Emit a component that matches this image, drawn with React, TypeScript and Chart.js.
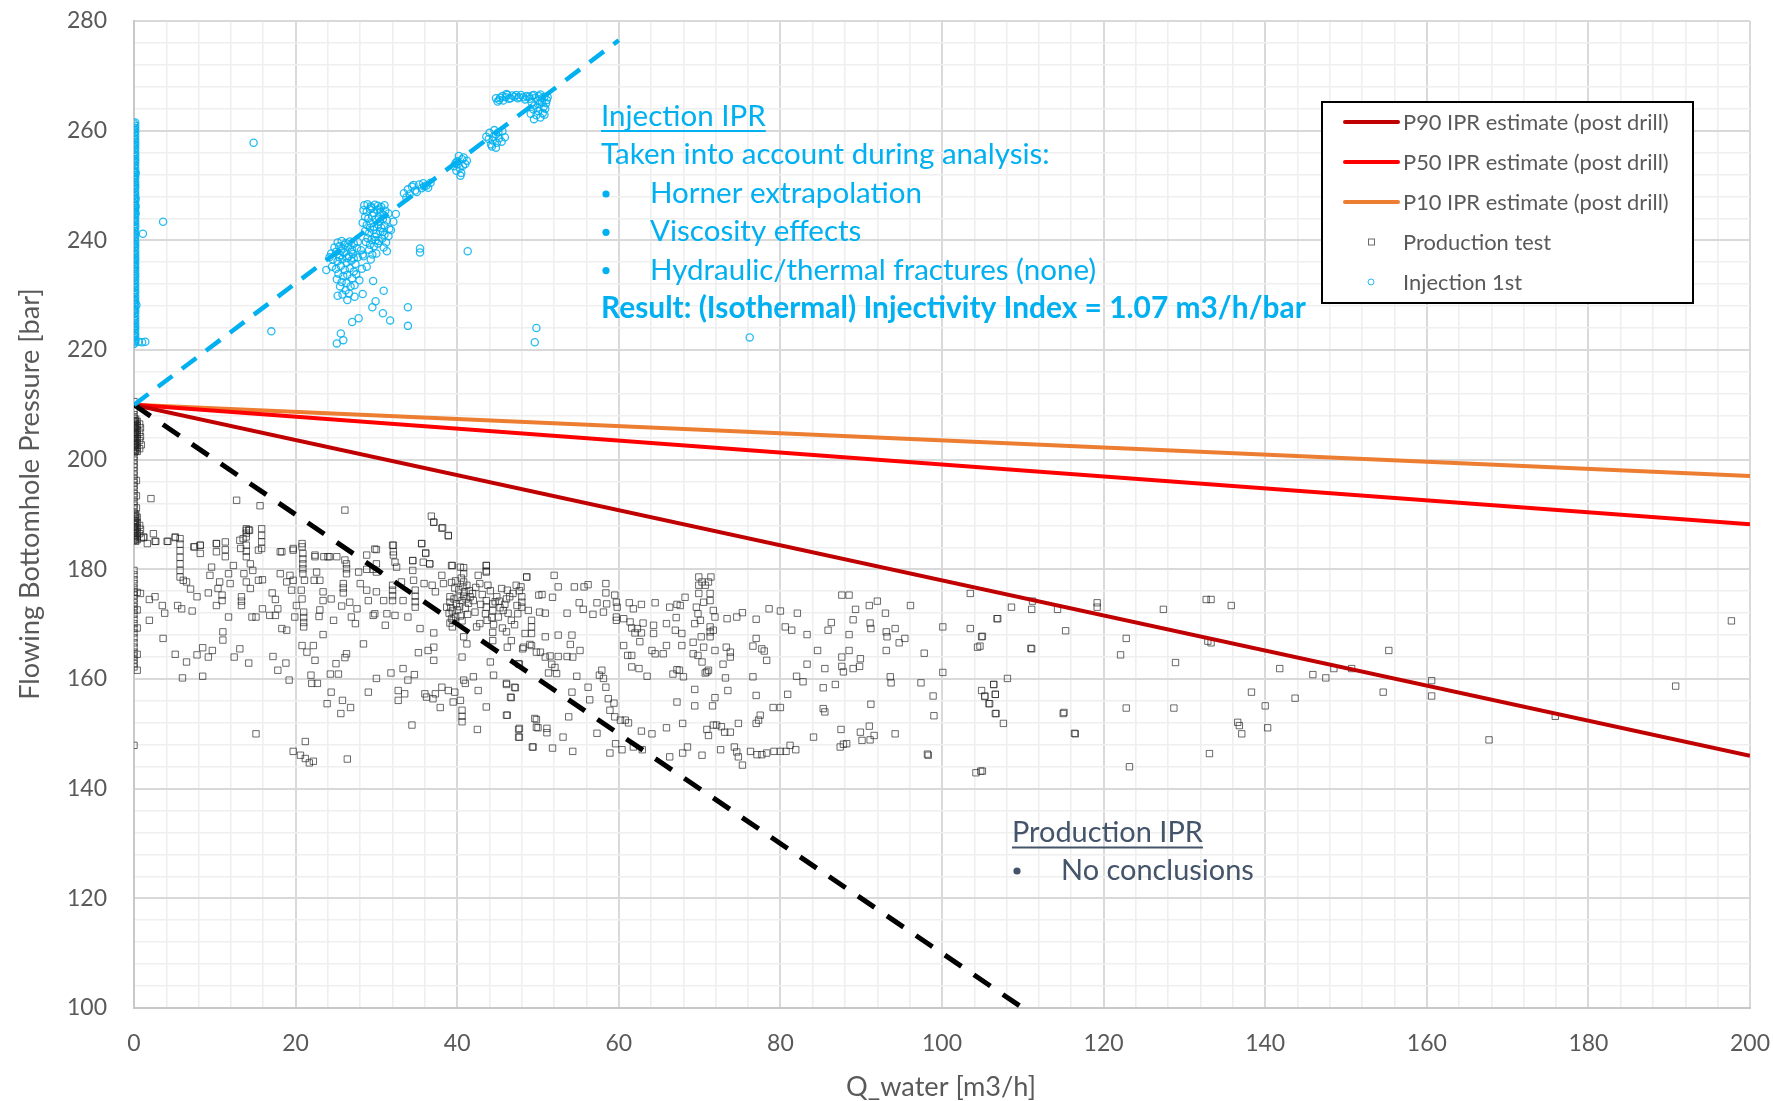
import React, { useEffect, useRef } from 'react';
import { Chart, registerables } from 'chart.js';

Chart.register(...registerables);

// ---------- axis ranges & tick labels ----------
const X_RANGE = [0, 200];
const Y_RANGE = [100, 280];
const MINOR_STEP = 4;
const X_TICK_LABELS = [0, 20, 40, 60, 80, 100, 120, 140, 160, 180, 200];
const Y_TICK_LABELS = [100, 120, 140, 160, 180, 200, 220, 240, 260, 280];

const X_TITLE = 'Q_water [m3/h]';
const Y_TITLE = 'Flowing Bottomhole Pressure [bar]';

// ---------- IPR estimate lines ----------
const P90_LINE = [[0, 210], [200, 146]];
const P50_LINE = [[0, 210], [200, 188.2]];
const P10_LINE = [[0, 210], [200, 197]];
const INJECTION_TREND = [[0, 210], [60, 276.5]];
const PRODUCTION_TREND = [[0, 210], [110, 100]];

// ---------- Injection 1st (blue circles) ----------
const INJECTION_AT_ZERO_Y = [
  221.1, 221.6, 222.3, 222.8, 223.5, 224.1, 224.6, 225.3, 225.8, 226.5, 227.1, 227.5, 228.3, 228.9, 229.4,
  230.1, 230.6, 231.3, 231.8, 232.5, 233.1, 233.6, 234.3, 234.8, 235.5, 236.1, 236.6, 237.3, 237.8, 238.5,
  239.1, 239.5, 240.3, 240.9, 241.4, 242.1, 242.6, 243.3, 243.8, 244.5, 245.1, 245.6, 246.3, 246.8, 247.5,
  248.1, 248.6, 249.3, 249.8, 250.5, 251.1, 251.6, 252.3, 252.8, 253.5, 254.1, 254.6, 255.3, 255.8, 256.5,
  257.1, 257.6, 258.3, 258.8, 259.5, 260.1, 260.6, 261.3,
];
const INJECTION_NEAR_ZERO_Y = [
  221.4, 221.9, 222.6, 223.1, 223.8, 224.3, 224.9, 225.5, 226.1, 226.8, 227.3, 227.9, 228.6, 229.1, 229.7,
  230.4, 230.9, 231.5, 232.1, 232.8, 233.4, 233.9, 234.5, 235.1, 235.8, 236.4, 236.9, 237.5, 238.1, 238.8,
  239.3, 239.9, 240.6, 241.1, 241.7, 242.4, 242.9, 243.5, 244.1, 244.8, 245.4, 245.9, 246.5, 247.1, 247.8,
  248.3, 248.9, 249.6, 250.1, 250.7, 251.4, 251.9, 252.5, 253.1, 253.8, 254.4, 254.9, 255.5, 256.1, 256.8,
  257.4, 257.9, 258.5, 259.1, 259.8, 260.4, 260.9, 261.5,
];

const INJECTION_POINTS = [
  // band around 45-51 m3/h
  [45, 265.3], [45.3, 266], [45.6, 266.3], [46, 266.1], [46.4, 265.8], [46.8, 266.4], [47.1, 266.2], [47.5, 265.9],
  [47.9, 266.5], [48.2, 266.1], [48.6, 266.3], [49, 265.8], [49.3, 266.4], [49.7, 266], [50.1, 266.3], [50.5, 265.9],
  [50.8, 266.2], [51.1, 265.6], [45.2, 265.6], [46.2, 266.5], [47.3, 266.5], [48.4, 265.7], [49.5, 266.5], [50.3, 266.6],
  [49.2, 265.2], [49.6, 264.6], [50.2, 264.9], [50.7, 264.3], [49.4, 263.9], [50, 263.6], [50.6, 263.2], [49.8, 262.8],
  [50.3, 262.4], [49.5, 262.1], [50.9, 264], [51, 265], [50.5, 265.2], [49.9, 264.2], [49.1, 263.1], [50.8, 262.9],
  [45.7, 265.5], [46.6, 265.9], [47.7, 266.1], [48.9, 266.2], [50, 265.5], [51.2, 266.1], [44.8, 265.9], [46.1, 266.7],
  // around 44-46
  [43.6, 258.9], [44, 259.6], [44.4, 258.2], [44.8, 259.3], [45.2, 258.6], [45.6, 259.9], [44.2, 257.5], [44.9, 257.8],
  [45.5, 258], [43.9, 258.5], [44.6, 260.1], [45.9, 258.8], [44.3, 257.1], [44.8, 256.9], [45.1, 259.7], [44.5, 258.9],
  // around 40
  [39.6, 253.5], [40, 254.4], [40.3, 253.2], [40.6, 254.8], [41, 253.9], [40.2, 255.4], [39.9, 252.7], [40.5, 252.3],
  [40.8, 255.1], [41.2, 254.5], [40.4, 251.8], [40.1, 253.9], [40.7, 253.6], [39.8, 254.1],
  // around 35
  [33.4, 248.6], [33.9, 249.3], [34.4, 249.8], [34.8, 249.1], [35.3, 250.2], [35.8, 250.4], [36.2, 250], [36.7, 250.5],
  [34.1, 248.4], [35, 248.8], [35.6, 249.5], [36.4, 249.6], [33.7, 247.8], [34.6, 250.1], [35.9, 249.8],
  // around 30
  [28.5, 246.4], [28.9, 246.6], [29.3, 246.2], [29.8, 246.5], [30.2, 246.3], [30.6, 246.1], [31, 246.4], [28.4, 245.5],
  [28.8, 245.2], [29.2, 245.7], [29.7, 245], [30.1, 245.6], [30.5, 245.1], [31.1, 245.4], [31.5, 244.9], [28.6, 244.3],
  [29, 244], [29.5, 244.5], [29.9, 243.8], [30.3, 244.2], [30.8, 243.9], [31.3, 243.6], [28.3, 243.2], [28.8, 242.8],
  [29.3, 243.1], [29.7, 242.5], [30.2, 242.9], [30.6, 242.3], [31, 242.7], [31.6, 242.1], [28.6, 241.7], [29.1, 241.4],
  [29.6, 241.9], [30, 241.2], [30.5, 241.6], [31, 241], [28.9, 240.4], [29.4, 240.1], [29.8, 240.6], [30.3, 239.9],
  [30.7, 240.3], [31.2, 239.6], [29.2, 239.2], [29.7, 238.9], [30.2, 239.4], [31.5, 240.8], [32.1, 243.4], [32.4, 244.8],
  [30.9, 238.7], [29.1, 238.3], [31.8, 241.9], [30, 237.6], [31.3, 238], [29.4, 245.9], [30.4, 245.8], [30.9, 244.6],
  [29.2, 242.3], [30.4, 243.4], [29.9, 240], [30.8, 241.5], [28.7, 239.7], [29.5, 237.4],
  // around 26
  [25.2, 239.6], [25.7, 239.9], [26.2, 239.5], [26.7, 239.8], [27.2, 239.4], [27.7, 239.7], [24.8, 238.7], [25.4, 238.9],
  [25.9, 238.5], [26.5, 238.8], [27, 238.3], [27.6, 238.6], [28.1, 238.2], [24.4, 237.6], [25, 237.9], [25.5, 237.3],
  [26, 237.7], [26.6, 237.1], [27.1, 237.5], [27.7, 236.9], [24.6, 236.5], [25.2, 236.2], [25.8, 236.6], [26.3, 235.9],
  [26.9, 236.3], [27.4, 235.7], [24.5, 235.2], [25, 234.8], [25.6, 235.3], [26.1, 234.6], [26.7, 234.9], [27.2, 234.3],
  [25.3, 233.9], [25.9, 233.5], [26.4, 233.7], [27, 233.1], [25.1, 232.9], [25.7, 232.4], [26.3, 232.2], [26.8, 231.6],
  [25.5, 231.6], [26.2, 230.9], [27.3, 231.8], [27.9, 232.7], [27.5, 233.8], [28.2, 234.8], [28.3, 237.4], [23.8, 234.6],
  [24.2, 236.9], [26.6, 230.3], [25.8, 230.1], [27.3, 229.7], [26.4, 229.1], [25.2, 229.9], [28.4, 237.1], [29.3, 236.5],
  [28.8, 235.2], [29.6, 232.6], [28.3, 230.2], [29.9, 228.9], [26.1, 239.2], [25.6, 238.1], [26.9, 237.9], [26.4, 236.8],
  [25.4, 236.9], [27.2, 236.7],
  // scattered
  [1.1, 241.2], [3.6, 243.4], [14.8, 257.8], [17, 223.4], [25.1, 221.2], [25.9, 221.8], [25.6, 223], [27, 225.1],
  [27.8, 225.8], [29.5, 227.8], [30.8, 226.7], [31.7, 225.4], [30.9, 230.8], [33.9, 227.8], [33.9, 224.4], [35.4, 238.5],
  [35.4, 237.8], [41.3, 238], [49.8, 224], [49.6, 221.4], [76.2, 222.3], [0.6, 221.5], [1, 221.4], [1.4, 221.5],
  [0.2, 247.6], [0.2, 246.2], [0.2, 244.9], [0.1, 250.1], [0.2, 252.3], [0.1, 235.4], [0.3, 228.2],
];

// ---------- Production test (grey squares) ----------
const PRODUCTION_AT_ZERO_Y = [
  210.6, 209, 208.2, 207.6, 207.1, 206.6, 206.2, 205.7, 205.2, 204.8, 204.3, 203.8, 203.3, 202.9, 202.4, 201.9,
  201.3, 200.6, 199.9, 199.2, 198.6, 197.9, 197.2, 196.5, 195.8, 195.2, 194.5, 193.8, 193.1, 192.4, 191.7, 191,
  190.3, 189.6, 188.9, 188.3, 187.8, 187.2, 186.7, 186.2, 185.7, 185.3, 179.8, 179, 178.1, 177.4, 176.6, 175.9,
  175.3, 174.6, 173.9, 173.2, 172.5, 171.8, 170.9, 170.1, 169.2, 168.4, 167.5, 166.6, 165.8, 164.9, 164.2, 163.5,
  162.8, 162.2, 147.9,
];
const PRODUCTION_DENSE_Y = [
  207.4, 207, 206.8, 206.4, 206, 205.9, 205.5, 205, 204.9, 204.6, 204.1, 203.9, 203.5, 203.1, 202.8, 202.6, 202.2,
  201.7, 201.5, 190.1, 189.8, 189.3, 188.9, 188.6, 188.1, 187.7, 187.4, 187, 186.6, 186.1, 185.8, 185.4, 185.1,
];

const PRODUCTION_POINTS = [
  [0.4, 207], [0.4, 206.2], [0.4, 205.4], [0.4, 204.6], [0.4, 203.8], [0.4, 203], [0.4, 202.2], [0.4, 201.5],
  [0.4, 189.5], [0.4, 188.5], [0.4, 187.6], [0.4, 186.8], [0.4, 186], [0.4, 185.4], [0.4, 175.8], [0.4, 172.6],
  [0.4, 169.3], [0.4, 164.5], [0.4, 161.6], [0.7, 206.5], [0.7, 205], [0.7, 203.5], [0.7, 202], [0.7, 188], [0.7, 186.5],
  [0.8, 205.8], [0.8, 204.2], [0.9, 202.7], [0.8, 187.3], [0.9, 185.7], [0.3, 196.2], [0.3, 193.4], [0.3, 191.2],
  [1.2, 185.9], [1.65, 184.7], [2.4, 186.5], [2.6, 185.1], [4.1, 185.1], [5.1, 185.9],
  [5.7, 185.6], [5.7, 184.6], [5.7, 183.4], [5.7, 182.2], [5.7, 181], [5.7, 179.8], [5.7, 178.6],
  [6.1, 178], [6.5, 177.7], [7, 176.4], [7.4, 184.1], [8.2, 184.4], [8.2, 182.9], [7.8, 175], [7.2, 172.4], [5.9, 172.8],
  [5.4, 173.4], [3.5, 173.4], [3.8, 172], [2.6, 175], [1.9, 174.5], [0.8, 175.6], [1.9, 170.7], [3.6, 167.4], [5.1, 164.5],
  [6.5, 163.1], [6, 160.2], [8.5, 160.5], [7.8, 164.4], [9.2, 164], [9.7, 165.2], [8.5, 165.7], [10.2, 184.7], [10.2, 183.2],
  [11.3, 185], [11.3, 183.6], [11.3, 182.3], [9.6, 180.4], [9.4, 178.9], [10.6, 177.7], [10.4, 176.5], [9.2, 175.7],
  [10.2, 173.4], [10.9, 175.3], [10.9, 174.3], [11.7, 179.2], [11.9, 177.4], [12.3, 180.7], [13.1, 185.3], [13.9, 187.4],
  [13.9, 186.6], [13.9, 185.9], [14.3, 187.1], [13.9, 184.4], [13.9, 183.3], [13.9, 182.3], [13.2, 183.8], [14.4, 181],
  [13.6, 179.2], [13.9, 177.7], [14.4, 176.5], [13.3, 175], [13.3, 174.2], [13.3, 173.4], [11.7, 171.3], [11, 168.6],
  [11, 167.1], [13.1, 165.5], [12.4, 164], [14.2, 162.9], [15.4, 178], [15.9, 178.1], [15.8, 187.4], [15.8, 186.2],
  [15.8, 185], [15.8, 183.8], [15.4, 183.5], [14.7, 179.8], [14.6, 171.3], [15.1, 171.3], [15.9, 172.8], [15.1, 150],
  [18.3, 183.2], [18.1, 179.2], [19.3, 178.9], [18.9, 177.7], [19.7, 178], [19.5, 176.2], [17.1, 175.7], [17.5, 174.5],
  [17.8, 172.8], [16.8, 171.6], [17.5, 171.6], [18.3, 169.2], [18.9, 168.9], [17.2, 164.1], [17.8, 161.6], [18.8, 162.9],
  [19.2, 159.8], [19.7, 183.8], [20.8, 184.7], [20.8, 184.1], [20.9, 182.9], [20.9, 181.9], [20.9, 181], [20.9, 180.1],
  [20.9, 179.2], [21.1, 178], [20.7, 176.2], [20.8, 174.6], [20.1, 173.4], [21, 172.2], [21, 171.2], [21, 170.3],
  [21, 169.5], [19.9, 171.3], [20.8, 166.1], [21.4, 164.9], [22.2, 166.1], [22.4, 163.4], [21.9, 160.7], [22, 159.2],
  [22.7, 159.2], [21.2, 148.6], [19.7, 146.8], [20.6, 146.1], [21.2, 145.5], [21.7, 144.7], [22.2, 145], [22.4, 182.3],
  [22.6, 179.5], [22.3, 178], [23, 178], [23.5, 182.3], [24.2, 182.3], [25.1, 182.3], [23.4, 175.9], [23, 172.6],
  [24.4, 174.6], [23.4, 174.3], [22.9, 171.4], [24.7, 170.7], [23.4, 168.1], [23.9, 155.5], [24.4, 157.6], [25, 162.8],
  [24.3, 160.9], [25.3, 160.9], [25.6, 153.7], [25.8, 156.1], [26.8, 154.8], [26.4, 145.4], [26.1, 163.9], [26.3, 164.6],
  [25.7, 173.3], [25.9, 175.7], [25.9, 176.6], [25.9, 177.4], [26.3, 181], [26.3, 180.1], [26.3, 179.2], [26.7, 174],
  [26.9, 171.3], [27.4, 170.1], [27.6, 172.8], [27.8, 179.5], [28.8, 182.6], [28.8, 176.2], [29, 174.3], [28.4, 166.4],
  [28, 177.4], [30, 183.6], [30, 179.5], [30, 175.9], [29.8, 171.9], [29.6, 171.6], [31.1, 169.8], [30.9, 174.3],
  [31.3, 171.9], [32.1, 184.4], [32.1, 182.6], [32.3, 181.3], [32.5, 180.4], [32, 177.1], [32, 176.2], [32, 175.2],
  [32, 174.3], [32.3, 171.6], [33.1, 177.7], [33.3, 174.3], [33.9, 171.3], [34.5, 181.6], [34.5, 179.8], [34.6, 178],
  [34.8, 176.2], [34.8, 175.1], [34.8, 174.1], [34.8, 173.1], [35.6, 184.7], [36.1, 182.9], [36.6, 181], [35.8, 181.3],
  [35.4, 169.2], [35.2, 164.8], [36.4, 165.2], [37.1, 165.8], [37.1, 163.4], [37.1, 168.4], [35.9, 177.4], [36.9, 177.1],
  [37.3, 175.9], [38.1, 178.9], [38.3, 177.4], [37.1, 188.6], [38.2, 187.6], [38.9, 186.1],
  [39.1, 175], [39.1, 174], [39.2, 173], [39, 172], [39.3, 171], [39.1, 170.2], [39.4, 169.5], [38.7, 173.1], [39.5, 170.7],
  [39.3, 180.7], [40.4, 180.4], [40.8, 179.2], [40.8, 177.7], [40.7, 176.8], [40.9, 175.9], [40.8, 175.1], [40.6, 174.3],
  [39.9, 173.7], [41.6, 175], [42, 174.3], [42.6, 178.9], [42.8, 177.4], [43.6, 180.7], [43.6, 179.5], [43.8, 177.1],
  [43.6, 174.3], [43.6, 173.1], [43.5, 171.9], [43.7, 170.7], [44.4, 173.7], [44.4, 172.5], [44.3, 171.2], [44.5, 169.9],
  [44.4, 168.5], [44.4, 167], [42.8, 170.1], [42.4, 169.5], [44.9, 175], [45.5, 176.5], [45.7, 172.5], [46.5, 175],
  [46.7, 170.7], [47.4, 173.4], [48, 175], [48, 174], [48, 173.1], [48.6, 178.6], [48.8, 172.5], [49.2, 170.7],
  [49.2, 169.5], [49.2, 168.3], [48.4, 168.3], [48.2, 165.8], [46.7, 167], [49.2, 166.1], [50.1, 175.3], [49.8, 164.9],
  [40.2, 176.3], [40.5, 178.4], [41.2, 177.1], [41.5, 176.1], [41.9, 175.6], [42.3, 176.7], [39.7, 176.6], [39.8, 177.9],
  [40, 172.6], [40.4, 171.5], [41, 172.9], [41.4, 173.8], [42.2, 172.2], [42.9, 173.6], [45.2, 174.2], [45.9, 173.6],
  [46.2, 176.2], [46.9, 175.6], [47.3, 177.1], [47.7, 176.1], [45.1, 171.3], [46.3, 172], [47.5, 171.9], [45.6, 169.3],
  [46.1, 168.6], [47.1, 169.9], [39.6, 174.6], [40.1, 174.9], [39.4, 172.4], [40.3, 173.2], [41.1, 174.6], [39.8, 171.3],
  [40.6, 170.6], [41.3, 171.8], [43.1, 175.4], [44.1, 176.1], [44.7, 174.1], [45.3, 173], [46.1, 174.6], [47.9, 176.8],
  [40.8, 167.7], [41.2, 166.4], [40.6, 164], [42, 160.4], [40.8, 159.8], [41, 159.2], [40.4, 156.1], [40.6, 154.3],
  [40.6, 153.2], [40.6, 152.2], [39.5, 155.8], [39.7, 157.6], [38.9, 157.9], [38.1, 158.5], [37.3, 157.3], [37, 156.4],
  [37.9, 154.8], [36.2, 156.7], [36, 157.3], [34.4, 151.6], [34.7, 160.8], [33.9, 159.8], [33.5, 157.3], [32.7, 157.9],
  [32.7, 156.1], [33.3, 161.9], [31.8, 161.1], [30, 160.1], [29, 157.6], [42.6, 157.9], [43.6, 154.9], [42.5, 150.8],
  [44.1, 163.1], [44.5, 160.7], [46.1, 159.2], [47.1, 158.5], [46.1, 153.4], [46.6, 156.7], [47.6, 150.8], [47.6, 149.4],
  [49.3, 147.6], [49.8, 152.6], [49.8, 151.2], [47.6, 162.8],
  [2.1, 192.9], [12.7, 192.6], [15.6, 191.6], [26.1, 190.8], [36.8, 189.7], [37.1, 188.6], [38.1, 187.5], [38.9, 186.2],
  [1.2, 185.8], [2.7, 185.1], [4.2, 185.1], [5.1, 185.8], [7.5, 184.1], [8.2, 184.4], [10.2, 184.7], [13.9, 187.1],
  [14.2, 187.2], [13.5, 185.6], [18.1, 183.2], [19.7, 183.5], [22.4, 182.6], [24, 182.3], [26.1, 181.7], [28.8, 180],
  [29.6, 180], [32, 184.4], [32.1, 183.2], [29.8, 183.7], [30, 181], [35.6, 184.7], [36.1, 183], [36.6, 181],
  [34.5, 181.6], [39.4, 180.7], [40.8, 180.3], [43.6, 180.7], [43.6, 179.7], [39.3, 177.6], [48.6, 178.6],
  // 45 - 110 m3/h
  [52, 178.9], [52.5, 176.8], [54.5, 176.8], [55.7, 176.8], [56.2, 177.2], [58.4, 177.4], [58.4, 175.7], [59.5, 175.3],
  [59.7, 174], [50.5, 175.4], [51.8, 174.9], [50.2, 172.2], [50.9, 172], [53.6, 172], [55.1, 173.9], [55.6, 172.7],
  [56.8, 171.8], [57.3, 173.9], [58.1, 172.2], [58.5, 173.7], [59.8, 173.1], [59.7, 171.3], [59.7, 170.7], [60.6, 171],
  [61.4, 170.4], [61.3, 173.9], [61.8, 172.8], [62.8, 173.6], [64.5, 173.9], [63, 170.2], [64.3, 169.8], [66.3, 173.1],
  [67.2, 173.6], [67.6, 173.4], [68.2, 174.9], [67.1, 171.2], [65.9, 170.1], [67, 168.9], [67.8, 168.3], [69.9, 178.6],
  [69.9, 177.1], [69.9, 175.6], [70.3, 177.7], [70.7, 177.1], [71.1, 177.7], [71.4, 178.6], [71.3, 175.6], [70.5, 174],
  [71.3, 174.3], [69.6, 173.1], [71.7, 172.5], [71.9, 171.3], [69.8, 171.9], [69.4, 170.1], [70.1, 170.7], [71.3, 169.5],
  [71.3, 168.6], [71.3, 167.7], [71.7, 168.9], [70.2, 167.7], [69.2, 166.7], [70.5, 165.8], [69.8, 164.3], [69.2, 164.6],
  [70.3, 163.1], [71.1, 161.6], [70.9, 161.3], [70.7, 161.1], [71.9, 165.2], [73.3, 165.8], [73.8, 164.9], [73.8, 164],
  [72.9, 162.7], [73.2, 160.2], [73.4, 171], [74.6, 171.3], [75.3, 172.1], [77, 170.9], [77, 167.4], [76.6, 166],
  [77.7, 165.5], [78, 165.1], [78.3, 163.4], [78.6, 172.8], [80, 172.4], [82.1, 172], [80.6, 169.5], [81.4, 168.9],
  [83.3, 168.1], [83.3, 162.7], [82, 160.5], [82.8, 159.5], [84.6, 165.2], [85.5, 161.9], [86.3, 170.3], [85.9, 168.9],
  [87.6, 175.3], [88.5, 175.3], [88.5, 168.1], [88.5, 165.2], [87.6, 164], [87.6, 162.3], [87.8, 161.3], [86.8, 159],
  [85.3, 158.4], [89, 170.8], [89.3, 172.7], [89.9, 163.7], [89.8, 162.3], [89, 161.9], [91, 173.4], [92, 174.2],
  [91.1, 170.2], [91.2, 169.2], [93, 172], [93.2, 167.7], [93.1, 168.6], [94.2, 169.2], [94.7, 166.6], [95.4, 167.4],
  [96.1, 173.4], [93.1, 165.2], [97.8, 164.7], [100.1, 169.5], [100.1, 161.2], [103.5, 175.6], [103.5, 169.2],
  [104.9, 167.7], [104.4, 165.8], [106.8, 171], [97.4, 159.3], [93.6, 160.4], [93.7, 159.3], [91.2, 155.4], [91, 151.4],
  [89.9, 150.3], [90.1, 148.8], [91.1, 148.9], [94.2, 150], [98.9, 156.9], [99, 153.3], [98.3, 146.1], [104.8, 143.2],
  [104.9, 157.9], [105.3, 156.9], [105.9, 155.5], [106.4, 159], [106.6, 157.2], [106.7, 153.7], [87.5, 150.8],
  [88.2, 148.2], [87.4, 147.6], [85.3, 154.6], [85.5, 154], [84.1, 149.4], [87.8, 148.1], [81.2, 147.9], [81.9, 147.1],
  [80.7, 146.8], [80, 146.8], [79.2, 146.8], [78.3, 146.5], [77.7, 146.2], [77.1, 146.2], [76.3, 146.8], [74.6, 146.7],
  [74.8, 145.8], [74.3, 147.6], [75.3, 144.3], [72.6, 147.1], [70.3, 146.1], [68.5, 147.6], [67.9, 146.5], [66.3, 145.8],
  [62.9, 147.1], [61.8, 147.6], [60.4, 147.1], [58.9, 146.5], [59.6, 148.2], [60.8, 152.5], [61.2, 152], [60.2, 152.5],
  [59.5, 153.1], [58.9, 154.3], [59.4, 155.6], [58.7, 156.4], [58.4, 158.5], [58.1, 160.1], [57.9, 161.6], [57.6, 160.7],
  [56.2, 158.5], [56.4, 156.2], [57.3, 150.1], [54.2, 157.6], [53.8, 153.1], [53.1, 149.4], [51.8, 147.4], [54.3, 146.8],
  [49.4, 147.6], [51.1, 151], [51.1, 150.2], [50, 151.1], [47.7, 151], [47.7, 149.4], [46.2, 153.4], [49.6, 152.8],
  [46.1, 159], [47.2, 158.4], [46.7, 156.6], [47.7, 162.7], [46.2, 165.8], [48.1, 165.5], [49, 166.3], [50.3, 164.9],
  [50.9, 164], [51.5, 164.2], [51.7, 162.7], [52.1, 162.1], [52.3, 161], [51.3, 161.1], [52.5, 164.1], [53.6, 164.1],
  [54, 166.3], [55.2, 165.2], [54.8, 160.5], [50.9, 167.7], [54.2, 168], [52.5, 168], [54.3, 164], [64.1, 165.2],
  [64.5, 164.6], [65.5, 164.6], [65.9, 166.1], [66.7, 160.9], [67.5, 161.6], [67.8, 166.1], [63.5, 160.5], [62.5, 161.9],
  [61.6, 162.2], [62.6, 166.8], [61.6, 164.3], [61.1, 164.3], [60.6, 166.1], [61.6, 169.3], [62.3, 169.2], [62.8, 168.4],
  [62, 168.4], [64.3, 168.3], [67.2, 155.8], [69.4, 158.1], [69.4, 155.1], [71.6, 155.1], [71.9, 156.6], [73.5, 157.9],
  [73.1, 150.3], [73.8, 150.3], [72.7, 151.3], [72.1, 151.6], [70.9, 150.8], [71.1, 149.7], [67.9, 151.9], [65.9, 151.1],
  [64.1, 150], [62.8, 150.5], [68, 160.4], [67.2, 161.7], [77, 157], [77, 151.9], [77.3, 152.5], [77.5, 153.4],
  [79.1, 154.8], [80, 154.8], [80.9, 157.2], [74.8, 151.9], [71.7, 151.6], [76.6, 160.4], [104.2, 142.9], [98.2, 146.3],
  [91.6, 149.7],
  // 104 - 200 m3/h
  [108.6, 173.1], [111.2, 174.2], [111.1, 172.7], [114.3, 172.7], [119.2, 173.9], [119.2, 173.1], [127.4, 172.7],
  [132.7, 174.5], [133.3, 174.5], [135.8, 173.4], [106.9, 171], [105, 167.8], [104.7, 166], [115.3, 168.8],
  [111.1, 165.5], [122.8, 167.4], [122.1, 164.4], [128.9, 163], [133.3, 166.6], [141.8, 161.9], [145.9, 160.8],
  [147.5, 160.2], [148.5, 161.9], [150.7, 161.9], [155.3, 165.2], [160.6, 159.7], [160.6, 156.9], [154.6, 157.6],
  [143.7, 156.5], [140, 155.1], [138.3, 157.6], [136.6, 152.1], [136.8, 151.5], [137.1, 150], [140.3, 151.1],
  [133.1, 146.4], [128.7, 154.7], [122.8, 154.7], [123.2, 144], [116.5, 150], [115, 153.7], [108.1, 160.1],
  [106.4, 159], [106.6, 157.2], [105.3, 156.8], [105.8, 155.5], [106.6, 153.7], [107.6, 151.9], [105, 143.2],
  [175.9, 153.2], [167.7, 148.9], [190.8, 158.7], [197.7, 170.6], [132.9, 166.9], [115.1, 153.9], [116.4, 150.1],
  [111, 165.6],
];

// ---------- legend and notes ----------
const LEGEND_LABELS = [
  'P90 IPR estimate (post drill)',
  'P50 IPR estimate (post drill)',
  'P10 IPR estimate (post drill)',
  'Production test',
  'Injection 1st',
];
const INJECTION_NOTE_TITLE = 'Injection IPR';
const INJECTION_NOTE_INTRO = 'Taken into account during analysis:';
const INJECTION_NOTE_BULLETS = ['Horner extrapolation', 'Viscosity effects', 'Hydraulic/thermal fractures (none)'];
const INJECTION_NOTE_RESULT = 'Result: (Isothermal) Injectivity Index = 1.07 m3/h/bar';
const PRODUCTION_NOTE_TITLE = 'Production IPR';
const PRODUCTION_NOTE_BULLETS = ['No conclusions'];

// ---------- colours ----------
const C_P90 = '#C00000';
const C_P50 = '#FF0000';
const C_P10 = '#ED7D31';
const C_INJ = '#00B0F0';
const C_PROD_POINT = 'rgba(35,35,35,0.68)';
const C_INJ_POINT = 'rgba(0,176,240,0.85)';
const C_TEXT = '#595959';
const C_PROD_NOTE = '#44546A';
const FONT = 'Lato, "Open Sans", "Liberation Sans", sans-serif';

const toXY = (arr: number[][]) => arr.map(([x, y]) => ({ x, y }));

const overlayPlugin = {
  id: 'overlayNotes',
  afterDraw(chart: any) {
    const ctx: CanvasRenderingContext2D = chart.ctx;
    const fit = (text: string, weight: string, target: number) => {
      ctx.font = `${weight} 100px ${FONT}`;
      return (100 * target) / ctx.measureText(text).width;
    };
    ctx.save();
    ctx.textBaseline = 'alphabetic';
    ctx.textAlign = 'left';

    // axis titles
    ctx.fillStyle = C_TEXT;
    const yts = fit(Y_TITLE, 'normal', 412);
    ctx.save();
    ctx.translate(30, 494);
    ctx.rotate(-Math.PI / 2);
    ctx.font = `normal ${yts}px ${FONT}`;
    ctx.textAlign = 'center';
    ctx.textBaseline = 'middle';
    ctx.fillText(Y_TITLE, 0, 0);
    ctx.restore();
    const xts = fit(X_TITLE, 'normal', 190);
    ctx.font = `normal ${xts}px ${FONT}`;
    ctx.textAlign = 'center';
    ctx.fillText(X_TITLE, 941, 1096);
    ctx.textAlign = 'left';

    // injection notes
    ctx.fillStyle = C_INJ;
    ctx.strokeStyle = C_INJ;
    const rs = fit(INJECTION_NOTE_INTRO, 'normal', 449);
    ctx.font = `normal ${rs}px ${FONT}`;
    ctx.fillText(INJECTION_NOTE_TITLE, 601, 126);
    const tw = ctx.measureText(INJECTION_NOTE_TITLE).width;
    ctx.lineWidth = 2;
    ctx.beginPath();
    ctx.moveTo(601, 131);
    ctx.lineTo(601 + tw, 131);
    ctx.stroke();
    ctx.fillText(INJECTION_NOTE_INTRO, 601, 164);
    INJECTION_NOTE_BULLETS.forEach((t, i) => {
      const base = 203 + i * 38.3;
      ctx.beginPath();
      ctx.arc(606, base - 9, 3.6, 0, Math.PI * 2);
      ctx.fill();
      ctx.fillText(t, 650, base);
    });
    const bs = fit(INJECTION_NOTE_RESULT, 'bold', 705);
    ctx.font = `bold ${bs}px ${FONT}`;
    ctx.fillText(INJECTION_NOTE_RESULT, 601, 318);

    // production notes
    ctx.fillStyle = C_PROD_NOTE;
    ctx.strokeStyle = C_PROD_NOTE;
    const ps = fit(PRODUCTION_NOTE_TITLE, 'normal', 191);
    ctx.font = `normal ${ps}px ${FONT}`;
    ctx.fillText(PRODUCTION_NOTE_TITLE, 1012, 842);
    const pw = ctx.measureText(PRODUCTION_NOTE_TITLE).width;
    ctx.beginPath();
    ctx.moveTo(1012, 847.5);
    ctx.lineTo(1012 + pw, 847.5);
    ctx.stroke();
    PRODUCTION_NOTE_BULLETS.forEach((t, i) => {
      const base = 880 + i * 38;
      ctx.beginPath();
      ctx.arc(1017, base - 9, 3.6, 0, Math.PI * 2);
      ctx.fill();
      ctx.fillText(t, 1061, base);
    });

    // legend box
    const L = 1322, T = 102, W = 371, H = 201;
    ctx.fillStyle = '#FFFFFF';
    ctx.fillRect(L, T, W, H);
    ctx.strokeStyle = '#000000';
    ctx.lineWidth = 2;
    ctx.strokeRect(L, T, W, H);
    const ls = fit(LEGEND_LABELS[0], 'normal', 266);
    const lineColors = [C_P90, C_P50, C_P10];
    LEGEND_LABELS.forEach((label, i) => {
      const cy = 122 + i * 40;
      if (i < 3) {
        ctx.strokeStyle = lineColors[i];
        ctx.lineWidth = 4;
        ctx.lineCap = 'round';
        ctx.beginPath();
        ctx.moveTo(1345, cy);
        ctx.lineTo(1398, cy);
        ctx.stroke();
        ctx.lineCap = 'butt';
      } else if (i === 3) {
        ctx.strokeStyle = C_PROD_POINT;
        ctx.lineWidth = 1;
        ctx.strokeRect(1368.5, cy - 3, 6, 6);
      } else {
        ctx.strokeStyle = C_INJ_POINT;
        ctx.lineWidth = 1;
        ctx.beginPath();
        ctx.arc(1371, cy, 3, 0, Math.PI * 2);
        ctx.stroke();
      }
      ctx.fillStyle = C_TEXT;
      ctx.font = `normal ${ls}px ${FONT}`;
      ctx.textBaseline = 'middle';
      ctx.fillText(label, 1403, cy + 1);
      ctx.textBaseline = 'alphabetic';
    });
    ctx.restore();
  },
};

const isMajor = (v: number) => Math.round(v) % 20 === 0;

export default function App() {
  const canvasRef = useRef<HTMLCanvasElement>(null);

  useEffect(() => {
    if (!canvasRef.current) return;
    const gridColor = (c: any) => (c.tick && isMajor(c.tick.value) ? '#D9D9D9' : '#EFEFEF');
    const gridWidth = (c: any) => (c.tick && isMajor(c.tick.value) ? 2 : 1.6);
    const tickFont = { family: FONT, size: 23 };

    const lineDs = (label: string, pts: number[][], color: string, width: number, dash: number[] = []) => ({
      type: 'line' as const,
      label,
      data: toXY(pts),
      borderColor: color,
      backgroundColor: color,
      borderWidth: width,
      borderDash: dash,
      pointRadius: 0,
      showLine: true,
      fill: false,
      tension: 0,
    });

    const chart = new Chart(canvasRef.current, {
      type: 'scatter',
      data: {
        datasets: [
          lineDs('Injection trend', INJECTION_TREND, C_INJ, 4.5, [18, 12]),
          lineDs('Production trend', PRODUCTION_TREND, '#000000', 5, [20, 15]),
          lineDs(LEGEND_LABELS[0], P90_LINE, C_P90, 4),
          lineDs(LEGEND_LABELS[1], P50_LINE, C_P50, 4),
          lineDs(LEGEND_LABELS[2], P10_LINE, C_P10, 4),
          {
            label: LEGEND_LABELS[4],
            data: [
              ...INJECTION_AT_ZERO_Y.map((y) => ({ x: 0, y })),
              ...INJECTION_NEAR_ZERO_Y.map((y) => ({ x: 0.15, y })),
              ...toXY(INJECTION_POINTS),
            ],
            pointStyle: 'circle',
            pointRadius: 3.6,
            borderColor: C_INJ_POINT,
            backgroundColor: 'rgba(0,0,0,0)',
            borderWidth: 1.3,
          },
          {
            label: LEGEND_LABELS[3],
            data: [
              ...PRODUCTION_AT_ZERO_Y.map((y) => ({ x: 0, y })),
              ...PRODUCTION_DENSE_Y.map((y) => ({ x: 0.2, y })),
              ...toXY(PRODUCTION_POINTS),
            ],
            pointStyle: 'rect',
            pointRadius: 4.5,
            borderColor: C_PROD_POINT,
            backgroundColor: 'rgba(0,0,0,0)',
            borderWidth: 1,
          },
        ] as any,
      },
      options: {
        animation: false,
        responsive: true,
        maintainAspectRatio: false,
        layout: { padding: { top: 21, right: 23, left: 0, bottom: 0 } },
        plugins: {
          legend: { display: false },
          tooltip: { enabled: false },
        },
        scales: {
          x: {
            type: 'linear',
            min: X_RANGE[0],
            max: X_RANGE[1],
            ticks: {
              stepSize: MINOR_STEP,
              autoSkip: false,
              maxRotation: 0,
              minRotation: 0,
              padding: 22,
              color: C_TEXT,
              font: tickFont,
              callback: (v: any) => (X_TICK_LABELS.includes(Math.round(v)) ? String(Math.round(v)) : ''),
            },
            grid: { color: gridColor, lineWidth: gridWidth, drawTicks: false },
            border: { color: '#C8C8C8', width: 2 },
            afterFit: (s: any) => {
              s.height = 93;
              s.paddingLeft = 0;
              s.paddingRight = 0;
              s.paddingTop = 0;
              s.paddingBottom = 0;
            },
          },
          y: {
            type: 'linear',
            min: Y_RANGE[0],
            max: Y_RANGE[1],
            ticks: {
              stepSize: MINOR_STEP,
              autoSkip: false,
              padding: 27,
              color: C_TEXT,
              font: tickFont,
              callback: (v: any) => (Y_TICK_LABELS.includes(Math.round(v)) ? String(Math.round(v)) : ''),
            },
            grid: { color: gridColor, lineWidth: gridWidth, drawTicks: false },
            border: { color: '#C8C8C8', width: 2 },
            afterFit: (s: any) => {
              s.width = 134;
              s.paddingLeft = 0;
              s.paddingRight = 0;
              s.paddingTop = 0;
              s.paddingBottom = 0;
            },
          },
        },
      } as any,
      plugins: [overlayPlugin],
    });
    return () => chart.destroy();
  }, []);

  return (
    <div style={{ position: 'fixed', left: 0, top: 0, width: 1773, height: 1101, background: '#FFFFFF' }}>
      <canvas ref={canvasRef} />
    </div>
  );
}
